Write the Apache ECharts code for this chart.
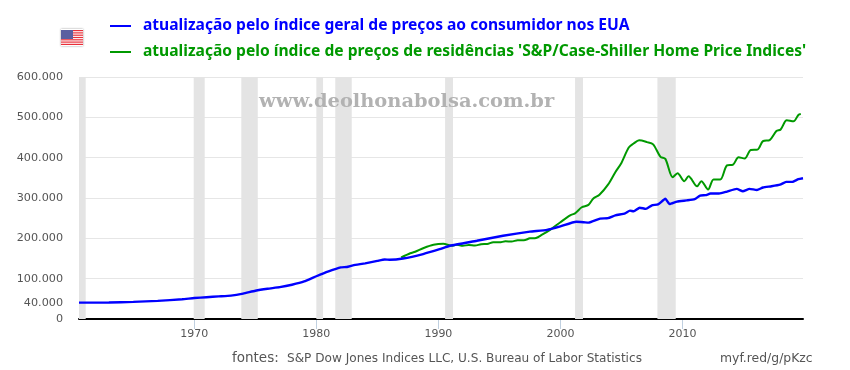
<!DOCTYPE html>
<html><head><meta charset="utf-8">
<style>html,body{margin:0;padding:0;background:#fff}#c{width:850px;height:370px}</style>
<script src="https://cdn.jsdelivr.net/npm/echarts@6/dist/echarts.min.js"></script>
</head><body><div id="c"></div>
<script>
const cpiName = "atualização pelo índice geral de preços ao consumidor nos EUA";
const homeName = "atualização pelo índice de preços de residências 'S&P/Case-Shiller Home Price Indices'";
const cpiYears = [1960.55,1963,1965,1967,1969,1970,1971,1972,1973,1974,1975,1976,1977,1978,1979,1980,1981,1982,1982.5,1983,1984,1985,1985.6,1986,1987.1,1988.75,1990.1,1990.95,1993.15,1995.3,1997.5,1998.9,2000,2001.3,2001.9,2002.3,2003.25,2003.9,2004.5,2005.3,2005.7,2006,2006.5,2007,2007.5,2008,2008.6,2008.95,2009.55,2010.35,2011,2011.45,2011.9,2012.3,2013,2013.65,2014.45,2014.95,2015.5,2016.1,2016.6,2017.3,2018,2018.5,2019,2019.5,2019.88];
const cpiValues = [40500,41000,42500,45000,49000,52000,54000,56000,58000,63000,70000,75000,79000,85000,93000,106000,118000,128000,129000,133000,138000,144000,147500,147000,150000,161000,173000,181600,194000,206500,216500,221000,229600,241000,240000,239000,249000,250000,257000,262000,268700,267000,276000,273000,282000,284000,298000,285000,291000,294000,297000,306000,307000,311000,311000,316000,322700,316700,322700,320000,326000,329000,333000,340000,340000,346600,349000];
const homeYears = [1986.95,1987.7,1988.1,1988.8,1989.6,1990.4,1991.1,1991.5,1992,1992.5,1993,1993.5,1994,1994.5,1995,1995.5,1996,1996.5,1997,1997.5,1998,1998.5,1999.15,2000,2000.8,2001.2,2001.75,2002.3,2002.7,2003.2,2003.9,2004.5,2005,2005.6,2006,2006.45,2007.1,2007.6,2008.2,2008.6,2009.2,2009.6,2010.15,2010.5,2011.2,2011.55,2012.1,2012.55,2013.1,2013.65,2014.15,2014.6,2015.1,2015.6,2016.15,2016.6,2017.15,2017.7,2018.05,2018.55,2019.1,2019.5,2019.7];
const homeValues = [152500,163000,166700,176000,184000,186600,181600,184000,181500,183500,182000,185500,186000,190500,190000,192500,192000,195500,195000,200000,201000,209000,221000,240000,257000,262000,277000,283000,299000,308000,333000,364000,387000,425000,435000,443000,438600,433000,402000,397000,351600,361500,341600,354000,329000,341600,321000,346000,346000,381000,383000,401000,398000,419000,420000,441000,443600,466000,470000,492600,490000,505800,508000];
const recessionStarts = [1960.55,1969.95,1973.85,1980.0,1981.55,1990.55,2001.2,2007.95];
const recessionEnds = [1961.1,1970.85,1975.2,1980.55,1982.9,1991.2,2001.85,2009.45];
const xTicks = [1970,1980,1990,2000,2010];
const yLabels = [0,40000,100000,200000,300000,400000,500000,600000];
const sourceLabel = "fontes:";
const sourceText = "S&P Dow Jones Indices LLC, U.S. Bureau of Labor Statistics";
const linkText = "myf.red/g/pKzc";
const watermark = "www.deolhonabolsa.com.br";

const zip = (a,b)=>a.map((v,i)=>[v,b[i]]);
const fmt = v=>String(v).replace(/\B(?=(\d{3})+$)/g,'.');
const grey = '#555';
const stripes = [];
for(let i=0;i<7;i++){
  stripes.push({type:'rect',shape:{x:61,y:30+i*2.3,width:22,height:1.2},style:{fill:'#e8303a'}});
}
const chart = echarts.init(document.getElementById('c'),null,{renderer:'canvas'});
chart.setOption({
  animation:false,
  backgroundColor:'#fff',
  grid:{left:79,right:47,top:77,bottom:51},
  legend:{
    left:105,top:13,orient:'vertical',itemWidth:21,itemHeight:2,itemGap:10,
    icon:'rect',selectedMode:false,
    textStyle:{fontFamily:'"Noto Sans"',fontWeight:'bold',fontSize:15.6,padding:[0,0,0,7]},
    data:[
      {name:cpiName,textStyle:{color:'#0000ff'}},
      {name:homeName,textStyle:{color:'#009900'}}
    ]
  },
  xAxis:{
    type:'value',min:1960.55,max:2019.88,
    axisLine:{show:true,onZero:false,lineStyle:{color:'#000',width:2}},
    axisTick:{show:false},
    axisLabel:{customValues:xTicks,formatter:v=>String(v),color:grey,fontFamily:'"DejaVu Sans"',fontSize:11,margin:10},
    splitLine:{show:false}
  },
  yAxis:{
    type:'value',min:0,max:600000,interval:100000,
    axisLine:{show:false},axisTick:{show:false},
    axisLabel:{customValues:yLabels,formatter:v=>fmt(v),color:grey,fontFamily:'"DejaVu Sans"',fontSize:11.2,margin:16,padding:[5,0,0,0]},
    splitLine:{show:true,lineStyle:{color:'#e6e6e6',width:1}}
  },
  series:[
    {type:'line',name:'recessões',data:[],z:1,silent:true,
     markArea:{silent:true,itemStyle:{color:'#e4e4e4',opacity:1},
       data:recessionStarts.map((s,i)=>[{xAxis:s},{xAxis:recessionEnds[i]}])}},
    {type:'custom',name:'ticks',silent:true,clip:false,z:2,data:xTicks.map(v=>[v,0]),
     encode:{x:0,y:1},
     renderItem:(p,api)=>{const c=api.coord([api.value(0),0]);
       return {type:'line',shape:{x1:Math.round(c[0])+.5,y1:c[1]+1,x2:Math.round(c[0])+.5,y2:c[1]+10},style:{stroke:'#c0d0e0',lineWidth:1}};}},
    {type:'line',name:homeName,data:zip(homeYears,homeValues),z:3,smooth:0.3,showSymbol:false,
     itemStyle:{color:'#009900'},lineStyle:{color:'#009900',width:2}},
    {type:'line',name:cpiName,data:zip(cpiYears,cpiValues),z:4,smooth:0.15,showSymbol:false,
     itemStyle:{color:'#0000ff'},lineStyle:{color:'#0000ff',width:2.4}}
  ],
  graphic:[
    {type:'text',x:259,y:93,scaleX:1.05,z:10,silent:true,style:{text:watermark,fill:'#b2b2b2',font:'bold 18.5px "DejaVu Serif"'}},
    {type:'text',left:232,top:351,style:{text:sourceLabel,fill:grey,font:'13.5px "DejaVu Sans"'}},
    {type:'text',left:287,top:353,style:{text:sourceText,fill:grey,font:'12.1px "DejaVu Sans"'}},
    {type:'text',left:720,top:353,style:{text:linkText,fill:grey,font:'12.4px "DejaVu Sans"'}},
    {type:'group',silent:true,children:[
      {type:'rect',shape:{x:61,y:29,width:22,height:17},style:{fill:'#fff',shadowBlur:2,shadowColor:'#999'}},
      ...stripes,
      {type:'rect',shape:{x:61,y:30,width:12,height:9},style:{fill:'#5a5fa0'}}
    ]}
  ]
});
</script></body></html>
